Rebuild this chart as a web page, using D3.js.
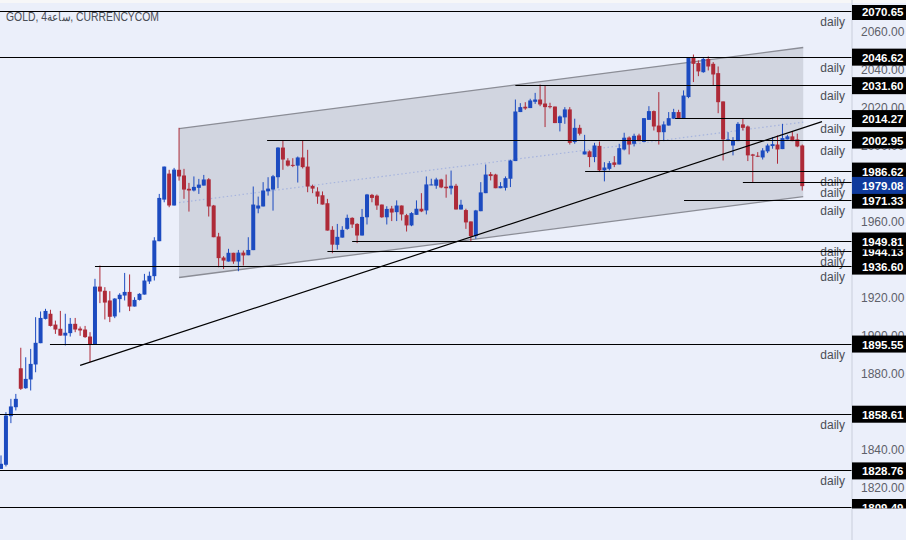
<!DOCTYPE html>
<html>
<head>
<meta charset="utf-8">
<script src="https://cdn.jsdelivr.net/npm/d3@7"></script>
<style>
	html, body { margin: 0; padding: 0; background: #ebeffa; overflow: hidden; }
	text { font-family: "Liberation Sans", sans-serif; font-size: 12px; }
</style>
</head>
<body>
<div id="chart"></div>
<script>
var opens = [1829.8,1832.0,1857.6,1862.3,1882.8,1872.3,1876.9,1884.8,1896.0,1908.8,
	1911.5,1905.8,1903.6,1900.0,1901.3,1906.2,1903.7,1903.2,1899.5,1895.1,
	1925.8,1923.6,1918.5,1910.1,1919.2,1921.1,1923.0,1915.3,1918.8,1921.6,
	1928.5,1931.3,1949.7,1971.6,1985.3,1968.5,1987.3,1984.3,1977.3,1976.4,
	1977.8,1979.0,1982.3,1968.5,1952.2,1941.1,1939.0,1943.6,1939.0,1943.7,
	1942.3,1945.0,1966.9,1968.0,1976.0,1976.9,1983.4,1999.0,1992.2,1989.9,
	1989.5,1993.8,1989.0,1978.8,1975.9,1973.9,1969.7,1955.7,1947.8,1951.6,
	1956.2,1962.0,1958.8,1952.7,1962.3,1974.1,1973.7,1969.0,1962.3,1966.9,
	1965.0,1968.5,1963.4,1958.0,1963.6,1966.8,1965.9,1979.2,1978.9,1982.2,
	1978.4,1977.5,1978.9,1966.4,1966.1,1960.1,1952.4,1965.5,1975.0,1985.0,
	1984.8,1977.6,1977.8,1982.6,1991.9,2017.7,2020.5,2019.8,2023.1,2024.3,
	2022.2,2020.8,2020.6,2011.9,2014.9,2019.1,2001.9,2009.4,1995.4,1997.0,
	1994.0,1999.9,1987.0,1987.8,1991.2,1990.1,1998.0,2004.3,2001.0,2005.4,
	2002.0,2013.6,2018.2,2010.6,2007.1,2010.6,2014.2,2017.7,2014.3,2025.6,
	2046.3,2043.5,2038.7,2045.7,2043.1,2038.2,2023.3,2002.7,2000.1,2002.4,
	2011.2,2010.1,1995.4,1994.7,1993.8,1997.0,1999.8,2000.6,1998.2,2003.3,
	2004.9,2003.3,2000.1];
var closes = [1832.5,1857.9,1862.7,1866.7,1872.0,1877.2,1885.1,1896.2,1909.3,1913.0,
	1905.1,1903.2,1900.0,1901.5,1906.2,1903.2,1902.7,1899.2,1895.1,1925.8,
	1923.2,1917.4,1909.9,1919.5,1921.5,1923.0,1915.3,1918.8,1922.0,1929.0,
	1931.5,1950.1,1972.5,1989.0,1968.5,1987.4,1983.8,1976.9,1976.4,1978.3,
	1979.5,1982.2,1968.0,1951.8,1940.8,1939.5,1943.6,1939.0,1943.7,1942.2,
	1945.1,1969.0,1968.5,1976.4,1977.4,1983.9,1999.0,1992.7,1989.5,1989.5,
	1993.8,1988.7,1978.5,1977.4,1973.2,1969.0,1955.3,1947.9,1952.0,1955.7,
	1962.0,1958.5,1952.7,1962.5,1974.3,1972.5,1968.5,1962.3,1966.7,1964.8,
	1968.5,1963.8,1958.0,1964.5,1966.8,1965.4,1979.6,1979.6,1982.2,1978.0,
	1977.6,1978.9,1966.4,1968.9,1959.6,1952.4,1965.9,1975.4,1984.8,1984.0,
	1977.6,1978.7,1982.9,1992.2,2018.0,2020.3,2019.6,2023.8,2024.3,2021.7,
	2020.3,2020.3,2011.9,2015.4,2019.1,2001.5,2009.4,2006.3,1997.0,1994.0,
	2000.1,1987.0,1988.5,1990.8,1989.9,1998.7,2004.2,2000.6,2005.2,2002.4,
	2014.5,2018.2,2010.1,2007.1,2011.2,2014.5,2017.7,2014.3,2026.4,2046.3,
	2043.1,2039.1,2045.7,2041.7,2037.5,2022.9,2003.3,2003.3,2002.7,2011.5,
	2009.4,1994.9,1994.7,1994.2,1997.5,2000.1,2000.8,1998.0,2004.0,2004.9,
	2002.4,1999.6,1978.7];
var highs = [1836.9,1859.7,1866.7,1869.3,1893.6,1888.6,1893.0,1909.7,1912.7,1914.1,
	1913.6,1907.9,1913.0,1911.5,1909.3,1909.3,1904.8,1905.1,1901.8,1929.9,
	1936.9,1925.5,1923.4,1919.7,1922.3,1933.0,1932.2,1920.2,1922.3,1932.5,
	1933.7,1951.8,1974.6,1989.0,1987.3,1988.3,2009.4,1987.8,1980.4,1983.8,
	1982.5,1984.6,1982.9,1968.8,1954.1,1941.8,1945.7,1943.6,1945.1,1944.8,
	1951.8,1978.5,1973.2,1980.8,1983.4,1984.6,1999.2,2002.7,1993.4,1993.4,
	1994.3,2002.7,1997.8,1979.5,1978.1,1975.9,1972.0,1957.6,1958.8,1957.6,
	1963.7,1962.3,1959.2,1966.7,1974.6,1974.6,1974.3,1969.0,1968.1,1968.3,
	1971.2,1968.5,1964.1,1965.0,1971.2,1975.0,1983.8,1982.6,1983.1,1982.6,
	1984.8,1986.9,1979.9,1971.5,1966.8,1960.1,1966.2,1980.8,1990.1,1986.1,
	1985.2,1980.8,1983.8,1992.6,2024.3,2022.4,2022.9,2024.7,2027.8,2032.2,
	2031.7,2022.6,2020.6,2015.9,2020.3,2020.3,2014.2,2011.0,2005.7,1997.5,
	2001.5,2002.2,1991.3,1991.9,1994.5,2001.0,2006.8,2004.9,2006.3,2006.3,
	2014.5,2020.8,2018.5,2028.2,2012.8,2017.7,2019.4,2018.9,2029.1,2046.3,
	2048.0,2044.9,2046.3,2047.0,2044.0,2041.7,2023.3,2007.1,2004.5,2012.4,
	2014.5,2010.6,1995.7,1996.6,1998.7,2001.0,2004.5,2005.4,2011.5,2005.7,
	2007.7,2006.3,2000.6];
var lows = [1829.8,1831.1,1853.9,1860.6,1871.4,1872.0,1871.1,1880.7,1896.0,1908.5,
	1904.8,1900.9,1900.0,1894.8,1899.5,1901.8,1899.9,1898.8,1886.0,1895.1,
	1917.1,1908.5,1907.1,1909.2,1912.2,1918.5,1912.9,1915.3,1918.5,1921.6,
	1927.2,1929.0,1949.7,1970.2,1967.6,1968.5,1981.6,1972.0,1965.3,1975.9,
	1974.6,1979.0,1962.7,1951.8,1936.0,1935.1,1939.0,1937.8,1933.9,1936.9,
	1942.3,1945.0,1964.4,1968.0,1973.7,1965.8,1977.6,1987.3,1989.0,1988.7,
	1980.6,1988.0,1975.5,1975.0,1969.4,1969.0,1955.3,1943.4,1945.3,1951.6,
	1955.7,1956.7,1948.7,1952.7,1958.5,1970.2,1966.2,1962.0,1958.5,1960.3,
	1960.3,1960.6,1954.8,1957.6,1963.6,1965.0,1963.8,1979.2,1977.3,1977.6,
	1972.6,1974.3,1966.4,1966.4,1956.2,1949.6,1951.0,1965.5,1975.0,1981.7,
	1977.6,1977.6,1976.4,1978.2,1991.9,2017.7,2018.9,2019.8,2022.0,2020.8,
	2009.8,2019.6,2011.9,2007.5,2011.5,2000.6,2001.0,2005.4,1995.4,1988.7,
	1991.3,1986.1,1981.2,1987.0,1988.7,1990.1,1997.5,1995.4,1999.6,2002.4,
	2002.0,2013.6,2008.0,2000.6,2002.4,2010.6,2014.2,2014.3,2014.3,2025.0,
	2033.5,2036.6,2038.4,2039.6,2031.7,2017.1,1992.2,2002.4,1994.9,2002.4,
	2008.0,1991.9,1980.5,1994.0,1992.7,1996.1,1998.4,1990.5,1998.2,2003.3,
	2002.4,1999.2,1976.4];

// horizontal levels, and the bar each one starts from
var levelPrices = [2070.65,2046.62,2031.60,2014.27,2002.95,1986.62,1980.4,1971.33,1949.81,1944.13,1936.60,1895.55,1858.61,1828.76,1809.49];
var levelStarts = [-1,-1,104,136.3,53.8,118.1,150,138.1,71,66,19,9.9,-1,-1,-1];
var levelNames = ["daily","daily","daily","daily","daily","daily","daily","daily","daily","daily","daily","daily","daily","daily",""];

// price tags on the scale, painted in this order so the overlaps come out right
var tagPrices = [1944.13,1986.62,2070.65,2046.62,2031.60,2014.27,2002.95,1971.33,1949.81,1936.60,1895.55,1858.61,1828.76,1809.49];
var lastPrice = 1979.08;
var tickValues = [2060,2040,2020,2000,1980,1960,1940,1920,1900,1880,1860,1840,1820];

// channel and trend line, [bar, price]
var channelUpper = [[36,2009.0],[162.2,2051.7]];
var channelLower = [[36,1930.6],[162.2,1973.2]];
var channelMiddle = [[36,1970.0],[162.2,2012.4]];
var trendLine = [[16,1884.3],[166,2012.7]];

var width = 906, height = 540;
var axisX = 852;
var upColor = "#1c4bc0", downColor = "#ae2a38";

var svg = d3.select("#chart").append("svg")
	.attr("width", width)
	.attr("height", height)
	.style("display", "block");

var x = d3.scaleLinear().domain([0, 172]).range([1, 851.7]);
var y = d3.scaleLinear().domain([2070.65, 1809.49]).range([11.5, 507.5]);

var line = d3.line()
	.x(function(d){ return x(d[0]) })
	.y(function(d){ return y(d[1]) });

svg.append("rect").attr("width", width).attr("height", height).attr("fill", "#ebeffa");
svg.append("rect").attr("width", width).attr("height", 3).attr("fill", "#f7f7f8");

// channel
svg.append("path")
	.attr("d", line(channelUpper.concat(channelLower.slice().reverse())) + "Z")
	.attr("fill", "#787b86")
	.attr("fill-opacity", 0.22);
[channelUpper, channelLower].forEach(function(c){
	svg.append("path")
		.attr("d", line(c))
		.attr("fill", "none")
		.attr("stroke", "#8b8d96")
		.attr("stroke-width", 1.3);
});
svg.append("path")
	.attr("d", line(channelMiddle))
	.attr("fill", "none")
	.attr("stroke", "#a6b4de")
	.attr("stroke-width", 1.2)
	.attr("stroke-dasharray", "1.5 2.5");

// candles
var candles = svg.append("g").selectAll("g")
	.data(opens.map(function(o, i){ return {i: i, o: o, c: closes[i], h: highs[i], l: lows[i]} }))
	.enter().append("g")
	.attr("fill", function(d){ return d.c >= d.o ? upColor : downColor })
	.attr("stroke", function(d){ return d.c >= d.o ? upColor : downColor });

candles.append("line")
	.attr("x1", function(d){ return x(d.i) })
	.attr("x2", function(d){ return x(d.i) })
	.attr("y1", function(d){ return y(d.h) })
	.attr("y2", function(d){ return y(d.l) })
	.attr("stroke-width", 1);

candles.append("rect")
	.attr("x", function(d){ return x(d.i) - 2 })
	.attr("width", 4)
	.attr("y", function(d){ return y(Math.max(d.o, d.c)) })
	.attr("height", function(d){ return Math.max(1, Math.abs(y(d.o) - y(d.c))) })
	.attr("stroke", "none");

// levels
levelPrices.forEach(function(p, i){
	var ly = Math.floor(y(p)) + 0.5;
	svg.append("line")
		.attr("x1", levelStarts[i] < 0 ? 0 : x(levelStarts[i]))
		.attr("x2", axisX)
		.attr("y1", ly)
		.attr("y2", ly)
		.attr("stroke", "#000")
		.attr("stroke-width", 1);
	svg.append("text")
		.attr("x", 845)
		.attr("y", ly + 14)
		.attr("text-anchor", "end")
		.attr("fill", "#4a4d55")
		.text(levelNames[i]);
});

svg.append("path")
	.attr("d", line(trendLine))
	.attr("fill", "none")
	.attr("stroke", "#000")
	.attr("stroke-width", 1.2);

// scale
svg.append("line")
	.attr("x1", axisX).attr("x2", axisX)
	.attr("y1", 0).attr("y2", height)
	.attr("stroke", "#c9cedb");

var axis = svg.append("g")
	.attr("transform", "translate(" + axisX + ",0)")
	.call(d3.axisRight(y).tickValues(tickValues).tickSize(0).tickPadding(9).tickFormat(d3.format(".2f")));
axis.select(".domain").remove();
axis.selectAll("text")
	.attr("fill", "#5d6069")
	.style("font-size", "12px")
	.style("font-family", '"Liberation Sans", sans-serif');

svg.append("clipPath").attr("id", "tagClip")
	.append("rect").attr("x", axisX).attr("y", 5).attr("width", 54).attr("height", 503.5);

var tags = svg.append("g").attr("clip-path", "url(#tagClip)");

function tag(p, color){
	tags.append("rect")
		.attr("x", axisX)
		.attr("y", y(p) - 8.5)
		.attr("width", 54)
		.attr("height", 17)
		.attr("fill", color);
	tags.append("text")
		.attr("x", 903.5)
		.attr("y", y(p) + 4.5)
		.attr("text-anchor", "end")
		.attr("fill", "#fff")
		.style("font-weight", "bold")
		.style("font-size", "11.5px")
		.text(p.toFixed(2));
}
tagPrices.forEach(function(p){ tag(p, "#000") });
tag(lastPrice, "#0f3a9c");

// title
svg.append("text")
	.attr("x", 6)
	.attr("y", 21)
	.attr("fill", "#4a4d55")
	.attr("textLength", 153)
	.attr("lengthAdjust", "spacingAndGlyphs")
	.text("GOLD, 4ساعة, CURRENCYCOM");
</script>
</body>
</html>
